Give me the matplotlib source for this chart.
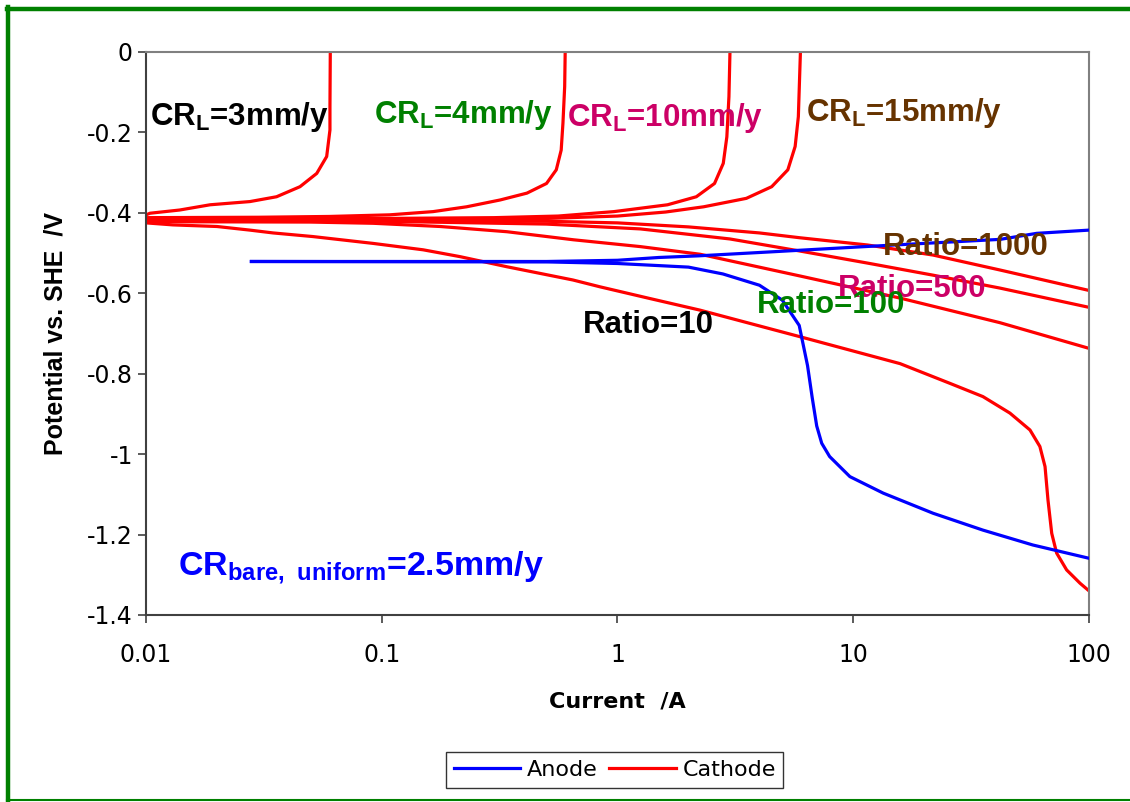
import matplotlib
matplotlib.use("Agg")
import matplotlib.pyplot as plt
from matplotlib.lines import Line2D
from matplotlib.ticker import FixedLocator, FixedFormatter

plt.rcParams["font.family"] = ["Liberation Sans", "DejaVu Sans"]
plt.rcParams["axes.unicode_minus"] = False
plt.rcParams["mathtext.fontset"] = "custom"
plt.rcParams["mathtext.rm"] = "Liberation Sans:bold"

# --- cathode curves with limiting current (CR_L) ---
cr3_i = [0.01, 0.0104, 0.0139, 0.0187, 0.0276, 0.0358, 0.045, 0.053, 0.0584, 0.0603, 0.0603, 0.0605]
cr3_e = [-0.405, -0.401, -0.393, -0.380, -0.372, -0.360, -0.335, -0.302, -0.260, -0.194, -0.136, 0.0]

cr4_i = [0.01, 0.03, 0.06, 0.108, 0.165, 0.229, 0.318, 0.413, 0.50, 0.55, 0.577, 0.587, 0.597, 0.60]
cr4_e = [-0.412, -0.411, -0.409, -0.405, -0.397, -0.385, -0.368, -0.351, -0.327, -0.293, -0.244, -0.177, -0.086, 0.0]

cr10_i = [0.01, 0.1, 0.3, 0.56, 0.965, 1.63, 2.16, 2.58, 2.81, 2.91, 2.97, 3.0]
cr10_e = [-0.415, -0.414, -0.412, -0.408, -0.397, -0.380, -0.360, -0.327, -0.277, -0.211, -0.111, 0.0]

cr15_i = [0.01, 0.1, 0.5, 1.0, 1.6, 2.32, 3.52, 4.51, 5.28, 5.67, 5.85, 5.97]
cr15_e = [-0.418, -0.417, -0.414, -0.408, -0.398, -0.385, -0.364, -0.335, -0.293, -0.235, -0.161, 0.0]

# --- cathode curves for area ratios ---
r1000_i = [0.01, 0.1, 0.5, 1.0, 2.0, 4.0, 5.94, 11.5, 21.8, 41.8, 100]
r1000_e = [-0.418, -0.419, -0.421, -0.425, -0.435, -0.450, -0.462, -0.480, -0.505, -0.542, -0.593]

r500_i = [0.01, 0.1, 0.5, 1.25, 3.0, 5.94, 11.5, 21.8, 41.8, 100]
r500_e = [-0.420, -0.421, -0.428, -0.440, -0.465, -0.495, -0.525, -0.555, -0.587, -0.635]

r100_i = [0.01, 0.05, 0.092, 0.177, 0.34, 0.65, 1.25, 2.24, 5.94, 15.8, 41.8, 100]
r100_e = [-0.422, -0.423, -0.426, -0.434, -0.447, -0.467, -0.484, -0.503, -0.557, -0.612, -0.673, -0.737]

r10_i = [0.01, 0.013, 0.02, 0.0276, 0.0346, 0.051, 0.0918, 0.15, 0.215, 0.339, 0.647, 0.843,
         1.37, 2.24, 5.94, 15.8, 25.7, 35.5, 46.2, 56.2, 61.9, 65.1, 67.0, 69.5, 72.9, 80.4, 91.6, 100]
r10_e = [-0.425, -0.430, -0.434, -0.443, -0.450, -0.459, -0.476, -0.492, -0.509, -0.534, -0.567, -0.584,
         -0.613, -0.642, -0.708, -0.775, -0.824, -0.857, -0.898, -0.940, -0.981, -1.031, -1.114, -1.197,
         -1.246, -1.288, -1.321, -1.340]

# --- anode curves ---
an_up_i = [0.028, 0.5, 1.0, 1.5, 2.2, 4.5, 11.2, 20, 42, 60, 100]
an_up_e = [-0.521, -0.521, -0.518, -0.511, -0.507, -0.497, -0.484, -0.476, -0.466, -0.451, -0.443]

an_dn_i = [0.028, 0.5, 1.0, 2.0, 2.8, 4.0, 5.0, 5.9, 6.4, 6.7, 7.0, 7.35, 7.94, 9.68, 13.4, 21.8, 35.5, 57.8, 100]
an_dn_e = [-0.521, -0.522, -0.526, -0.535, -0.552, -0.580, -0.617, -0.680, -0.780, -0.860, -0.930, -0.973,
           -1.006, -1.056, -1.097, -1.147, -1.189, -1.226, -1.259]

x_ticks = [0.01, 0.1, 1, 10, 100]
x_labels = ["0.01", "0.1", "1", "10", "100"]
y_ticks = [0, -0.2, -0.4, -0.6, -0.8, -1.0, -1.2, -1.4]
y_labels = ["0", "-0.2", "-0.4", "-0.6", "-0.8", "-1", "-1.2", "-1.4"]

fig = plt.figure(figsize=(11.3, 8.02), dpi=100)
ax = fig.add_axes([0.1292, 0.2332, 0.8345, 0.702])

lw = 2.3
red = "#FF0000"
blue = "#0000FF"
cathodes = [(cr3_i, cr3_e), (cr4_i, cr4_e), (cr10_i, cr10_e), (cr15_i, cr15_e),
            (r1000_i, r1000_e), (r500_i, r500_e), (r100_i, r100_e), (r10_i, r10_e)]
cath_lines = []
for ci, ce in cathodes:
    cath_lines += ax.plot(ci, ce, color=red, lw=lw, zorder=2)
an_line, = ax.plot(an_up_i, an_up_e, color=blue, lw=lw, zorder=3)
ax.plot(an_dn_i, an_dn_e, color=blue, lw=lw, zorder=3)

ax.set_xscale("log")
ax.set_xlim(0.01, 100)
ax.set_ylim(-1.4, 0)
ax.xaxis.set_major_locator(FixedLocator(x_ticks))
ax.xaxis.set_major_formatter(FixedFormatter(x_labels))
ax.xaxis.set_minor_locator(FixedLocator([]))
ax.yaxis.set_major_locator(FixedLocator(y_ticks))
ax.yaxis.set_major_formatter(FixedFormatter(y_labels))
ax.tick_params(axis="both", labelsize=17, length=6, width=1.2, color="#404040", direction="out")
ax.tick_params(axis="x", pad=14)
for lab in ax.get_xticklabels() + ax.get_yticklabels():
    lab.set_fontfamily("DejaVu Sans")
for side in ["top", "right"]:
    ax.spines[side].set_color("#808080")
    ax.spines[side].set_linewidth(1.5)
for side in ["left", "bottom"]:
    ax.spines[side].set_color("#404040")
    ax.spines[side].set_linewidth(1.5)

ax.set_xlabel("Current  /A", fontsize=16, fontweight="bold", family="DejaVu Sans", labelpad=18)
ax.set_ylabel("Potential vs. SHE  /V", fontsize=18, fontweight="bold", labelpad=14)

# --- annotations ---
fs = 22.5
ax.text(0.0104, -0.162, r"CR$_\mathregular{L}$=3mm/y", color="black", fontsize=fs, fontweight="bold", va="center")
ax.text(0.0927, -0.157, r"CR$_\mathregular{L}$=4mm/y", color="#008000", fontsize=fs, fontweight="bold", va="center")
ax.text(0.61, -0.164, r"CR$_\mathregular{L}$=10mm/y", color="#CC0066", fontsize=fs, fontweight="bold", va="center")
ax.text(6.3, -0.152, r"CR$_\mathregular{L}$=15mm/y", color="#663300", fontsize=fs, fontweight="bold", va="center")
ax.text(13.4, -0.485, "Ratio=1000", color="#663300", fontsize=fs, fontweight="bold", va="center")
ax.text(8.6, -0.589, "Ratio=500", color="#CC0066", fontsize=fs, fontweight="bold", va="center")
ax.text(3.9, -0.629, "Ratio=100", color="#008000", fontsize=fs, fontweight="bold", va="center")
ax.text(0.714, -0.679, "Ratio=10", color="black", fontsize=fs, fontweight="bold", va="center")
ax.text(0.0137, -1.283, r"CR$_\mathregular{bare,\ uniform}$=2.5mm/y", color=blue, fontsize=24.5,
        fontweight="bold", va="center")

fig.legend([an_line, cath_lines[0]], ["Anode", "Cathode"], loc="center", bbox_to_anchor=(0.544, 0.04),
           ncol=2, prop={"family": "DejaVu Sans", "size": 16}, frameon=True, fancybox=False,
           edgecolor="black", handlelength=3.0, columnspacing=0.5, handletextpad=0.3, borderpad=0.35)

# green outer frame
fig.add_artist(Line2D([0.0062, 1.0], [0.989, 0.989], color="#008000", lw=3.2, transform=fig.transFigure))
fig.add_artist(Line2D([0.0075, 0.0075], [0.0, 0.991], color="#008000", lw=3.2, transform=fig.transFigure))
fig.add_artist(Line2D([0.0062, 1.0], [0.002, 0.002], color="#008000", lw=1.5, transform=fig.transFigure))

fig.savefig("out.png", dpi=100)
